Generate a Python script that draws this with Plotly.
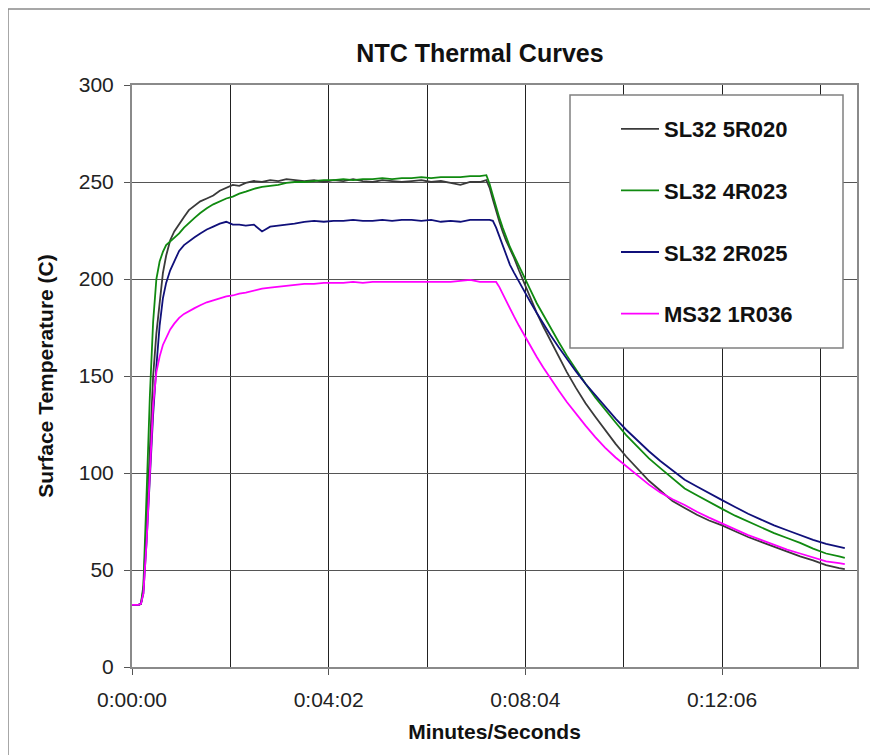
import plotly.graph_objects as go

# ---- data (time in seconds, temperature in C) ----
t = [0, 8, 11, 14, 18, 22, 26, 30, 34, 38,
     42, 47, 52, 58, 64, 70, 77, 84, 92, 100,
     108, 116, 124, 132, 140, 150, 160, 170, 180, 190,
     200, 212, 224, 236, 248, 260, 272, 284, 296, 308,
     320, 332, 344, 356, 368, 380, 392, 404, 416, 428,
     436, 440, 444, 448, 452, 456, 460, 465, 470, 476,
     482, 490, 498, 506, 515, 525, 535, 546, 558, 570,
     582, 595, 608, 622, 636, 650, 665, 680, 695, 710,
     726, 742, 758, 774, 790, 806, 822, 838, 854, 870,
     877]

sl32_5r020 = [32, 32, 32.5, 40, 75, 115, 150, 172, 189, 203,
              212, 220, 224.5, 228.5, 232, 235.5, 238, 240, 241.5, 243,
              245.5, 247, 248.5, 248, 249.5, 250.5, 250, 251, 250.5, 251.5,
              251, 250.5, 251, 250, 251, 250.5, 251.5, 250.5, 250, 251,
              250.5, 250, 250.5, 251, 250, 250.5, 249.5, 248.5, 250, 250,
              251, 247, 241, 235, 229.5, 224.5, 220, 215.5, 211, 204.5,
              198.5, 190.5, 182.5, 175.5, 168, 159.5, 152, 144, 136, 129,
              122, 115, 108.5, 102, 96, 91, 85.5, 82, 78.5, 75.5,
              73, 70, 67, 64.5, 62, 59.5, 57, 55, 52.5, 51,
              50.5]

sl32_4r023 = [32, 32, 32.5, 42, 90, 140, 178, 200, 209, 214,
              217.5, 219.5, 221, 223.5, 226.5, 229, 231.5, 234, 236.5, 238.5,
              240, 241.5, 242.5, 244, 245, 246.5, 247.5, 248, 248.5, 249.5,
              250, 250, 250.5, 251, 251, 251.5, 251, 251.5, 251.5, 252,
              251.5, 252, 252, 252.5, 252, 252.5, 252.5, 252.5, 253, 253,
              253.5, 249, 243, 237, 231.5, 226.5, 222, 216.5, 212, 206.5,
              201, 194.5, 187.5, 181.5, 174.5, 167.5, 160.5, 153.5, 146, 139,
              132.5, 126, 119.5, 113.5, 107.5, 102.5, 97, 92, 88.5, 85,
              81.5, 78, 75, 72, 69, 66.5, 64, 61, 58.5, 57,
              56.3]

sl32_2r025 = [32, 32, 32.5, 38, 65, 100, 130, 155, 176, 190,
              198, 204.5, 209, 214.5, 217.5, 219.5, 221.5, 223.5, 225.5, 227,
              228.5, 229.5, 228, 228, 227.5, 228, 224.5, 227, 227.5, 228,
              228.5, 229.5, 230, 229.5, 230, 230, 230.5, 230, 230, 230.5,
              230, 230.5, 230.5, 230, 230.5, 229.5, 230, 229.5, 230.5, 230.5,
              230.5, 230.5, 230, 226.5, 222, 217.5, 212, 207.3, 203.3, 198.6,
              194, 188.2, 182.5, 177, 171, 164.8, 158.8, 152.5, 146, 140,
              134, 128, 122.3, 116.6, 111.2, 106.2, 101.2, 96.5, 93, 89.5,
              86, 82.5, 79, 76, 73, 70.5, 68, 65.5, 63.5, 62,
              61.3]

ms32_1r036 = [32, 32, 32.5, 38, 65, 100, 135, 152, 160, 166,
              170, 174, 177, 180, 182, 183.5, 185, 186.5, 188, 189,
              190, 191, 191.5, 192.5, 193, 194, 195, 195.5, 196, 196.5,
              197, 197.5, 197.5, 198, 198, 198, 198.5, 198, 198.5, 198.5,
              198.5, 198.5, 198.5, 198.5, 198.5, 198.5, 198.5, 199, 199.5, 198.5,
              198.5, 198.5, 198.5, 198.5, 195.8, 192.3, 188.9, 184.7, 180.7, 176,
              171.4, 165.5, 159.8, 154.4, 148.6, 142.5, 136.6, 130.6, 124.4, 118.5,
              113.1, 108, 103.5, 98.5, 94, 90, 86.5, 83.5, 80, 77,
              74, 71, 68, 65.5, 63, 60.5, 58.5, 56.5, 54.5, 53.5,
              53]

series_names = ["SL32 5R020", "SL32 4R023", "SL32 2R025", "MS32 1R036"]
series_values = [sl32_5r020, sl32_4r023, sl32_2r025, ms32_1r036]
series_colors = ["#3a3a3a", "#108a10", "#10107a", "#ff00ff"]

tick_vals = [0, 242, 484, 726]
tick_text = ["0:00:00", "0:04:02", "0:08:04", "0:12:06"]

FONT = "Liberation Sans, Arial, sans-serif"

fig = go.Figure()
for name, vals, col in zip(series_names, series_values, series_colors):
    fig.add_trace(go.Scatter(x=t, y=vals, mode="lines", name=name,
                             legendgroup=name,
                             line=dict(color=col, width=1.8)))

# page body has an 8px margin: layout coords = screen coords - 8
OFF = 8
W, H = 870, 747
L, R, T, B = 132 - OFF, 857 - OFF, 85 - OFF, 667 - OFF
pw, ph = R - L, B - T


def sx(xs):
    return (xs - OFF - L) / pw


def sy(ys):
    return (B - (ys - OFF)) / ph


fig.update_layout(
    width=W, height=H,
    margin=dict(l=L, r=W - R, t=T, b=H - B),
    paper_bgcolor="white", plot_bgcolor="white",
    font=dict(family=FONT, color="#222"),
    title=dict(text="NTC Thermal Curves", x=(480 - OFF) / W, xref="container", xanchor="center",
               y=1 - (53 - OFF) / H, yref="container", yanchor="middle",
               font=dict(family=FONT, size=25, color="#111", weight="bold")),
    showlegend=True,
    legend=dict(x=sx(616), y=sy(108), xanchor="left", yanchor="top",
                bgcolor="rgba(0,0,0,0)", borderwidth=0,
                font=dict(family=FONT, size=22, color="#111", weight="bold"),
                itemwidth=38, tracegroupgap=30, traceorder="grouped"),
    xaxis=dict(range=[0, 892], tickmode="array", tickvals=tick_vals, ticktext=tick_text,
               ticks="outside", ticklen=6, tickcolor="#555", tickwidth=1,
               ticklabelstandoff=7,
               showgrid=True, gridcolor="#222", gridwidth=1,
               minor=dict(tickmode="linear", tick0=0, dtick=121, showgrid=True,
                          gridcolor="#222", gridwidth=1, ticks=""),
               showline=True, linecolor="#8a8a8a", linewidth=2, mirror=True,
               zeroline=False, tickfont=dict(size=21, color="#222"),
               title=dict(text="Minutes/Seconds", standoff=14,
                          font=dict(family=FONT, size=21, color="#111", weight="bold"))),
    yaxis=dict(range=[0, 300], tickmode="linear", tick0=0, dtick=50,
               ticks="outside", ticklen=6, tickcolor="#555", tickwidth=1,
               ticklabelstandoff=6,
               showgrid=True, gridcolor="#555", gridwidth=1,
               showline=True, linecolor="#8a8a8a", linewidth=2, mirror=True,
               zeroline=False, tickfont=dict(size=21, color="#222"),
               title=dict(text="Surface Temperature (C)", standoff=19,
                          font=dict(family=FONT, size=21, color="#111", weight="bold"))),
    shapes=[
        # legend frame
        dict(type="rect", xref="paper", yref="paper",
             x0=sx(570), x1=sx(843), y0=sy(348), y1=sy(95),
             line=dict(color="#808080", width=1.5), fillcolor="white", layer="above"),
        # chart-area border (extends past the right and bottom edges)
        dict(type="rect", xref="paper", yref="paper",
             x0=sx(8), x1=sx(900), y0=sy(780), y1=sy(9),
             line=dict(color="#8a8a8a", width=1.5), fillcolor="rgba(0,0,0,0)", layer="below"),
    ],
)

fig.write_html("out.html")
